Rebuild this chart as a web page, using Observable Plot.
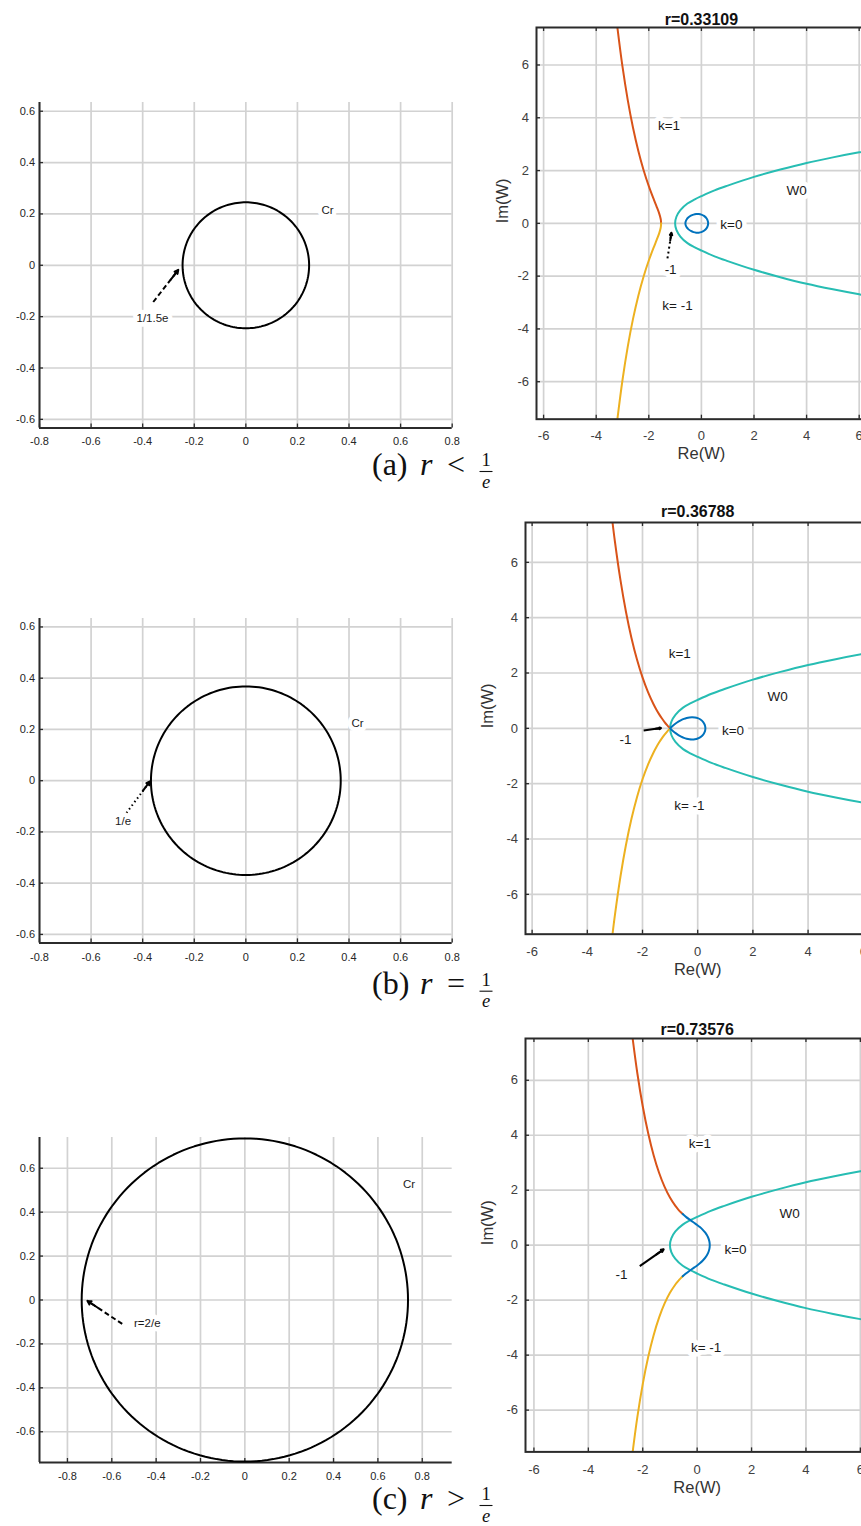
<!DOCTYPE html>
<html>
<head>
<meta charset="utf-8">
<script src="https://cdn.jsdelivr.net/npm/d3@7"></script>
<script src="https://cdn.jsdelivr.net/npm/@observablehq/plot@0.6"></script>
<style>
  html, body { margin: 0; padding: 0; background: #fff; overflow: hidden; }
  #fig { position: relative; width: 861px; height: 1526px; overflow: hidden; background: #fff; }
</style>
</head>
<body>
<div id="fig"></div>
<script>
// ---- values ----
const circleRadii = [0.2453, 0.3679, 0.7358];          // radius of the circle C_r in each row
const rowTitles = ["r=0.33109", "r=0.36788", "r=0.73576"];
const captionTags = ["(a)", "(b)", "(c)"];
const captionRelations = ["<", "=", ">"];

const leftXTicks = [-0.8, -0.6, -0.4, -0.2, 0, 0.2, 0.4, 0.6, 0.8];
const leftYTicks = [-0.6, -0.4, -0.2, 0, 0.2, 0.4, 0.6];
const rightTicks = [-6, -4, -2, 0, 2, 4, 6];

// W0 boundary curve (upper half, from the vertex at -1)
const tealUpper = [[-1.0, 0], [-0.95, 0.25], [-0.8, 0.5], [-0.53, 0.75], [-0.25, 0.91], [0, 1.03],
  [0.5, 1.25], [1, 1.43], [2, 1.76], [3, 2.04], [4, 2.29], [5, 2.5], [6, 2.69], [7, 2.86]];

// row (a): image of |z| = 0.33109
const k0UpperA = [[-0.608, 0], [-0.6, 0.063], [-0.55, 0.164], [-0.5, 0.219], [-0.4, 0.29], [-0.3, 0.331],
  [-0.2, 0.352], [-0.1, 0.352], [0, 0.331], [0.1, 0.282], [0.2, 0.183], [0.25, 0.063], [0.256, 0]];
const k1A = [[-1.532, 0], [-1.54, 0.117], [-1.55, 0.176], [-1.6, 0.36], [-1.7, 0.628], [-1.8, 0.879],
  [-2.0, 1.409], [-2.2, 2.022], [-2.4, 2.75], [-2.6, 3.621], [-2.8, 4.67], [-3.0, 5.935], [-3.2, 7.466], [-3.25, 7.896]];

// row (b): image of |z| = 1/e
const k0UpperB = [[-1, 0], [-0.95, 0.048], [-0.9, 0.093], [-0.8, 0.174], [-0.7, 0.243], [-0.6, 0.299],
  [-0.5, 0.343], [-0.4, 0.376], [-0.3, 0.396], [-0.2, 0.402], [-0.1, 0.394], [0, 0.368], [0.1, 0.318],
  [0.2, 0.225], [0.25, 0.14], [0.27, 0.077], [0.2785, 0]];
const k1B = [[-1, 0], [-1.05, 0.052], [-1.1, 0.107], [-1.2, 0.228], [-1.3, 0.364], [-1.4, 0.515], [-1.5, 0.684],
  [-1.6, 0.872], [-1.8, 1.309], [-2.0, 1.841], [-2.2, 2.487], [-2.4, 3.269], [-2.6, 4.216], [-2.8, 5.363],
  [-3.0, 6.753], [-3.1, 7.555]];

// row (c): image of |z| = 2/e
const k0UpperC = [[-0.531, 1.133], [-0.5, 1.105], [-0.4, 1.022], [-0.3, 0.947], [-0.2, 0.876], [-0.1, 0.807],
  [0, 0.736], [0.1, 0.658], [0.2, 0.568], [0.3, 0.455], [0.4, 0.289], [0.45, 0.133], [0.463, 0]];
const k1C = [[-0.531, 1.133], [-0.6, 1.199], [-0.7, 1.306], [-0.8, 1.429], [-1.0, 1.732], [-1.2, 2.128],
  [-1.4, 2.635], [-1.6, 3.274], [-1.8, 4.071], [-2.0, 5.055], [-2.2, 6.265], [-2.4, 7.747]];

// annotations on the z-plane panels
const leftLabels = [
  [{x: 0.317, y: 0.214, text: "Cr"}, {x: -0.362, y: -0.205, text: "1/1.5e"}],
  [{x: 0.433, y: 0.222, text: "Cr"}, {x: -0.476, y: -0.159, text: "1/e"}],
  [{x: 0.74, y: 0.528, text: "Cr"}, {x: -0.44, y: -0.106, text: "r=2/e"}]
];
const leftArrows = [
  {x1: -0.359, y1: -0.143, x2: -0.262, y2: -0.018, dash: "5,3"},
  {x1: -0.463, y1: -0.126, x2: -0.372, y2: -0.003, dash: "1.5,3"},
  {x1: -0.553, y1: -0.109, x2: -0.71, y2: -0.004, dash: "5,3"}
];
// annotations on the W-plane panels
const rightLabels = [
  [{x: -1.23, y: 3.69, text: "k=1"}, {x: 3.62, y: 1.23, text: "W0"}, {x: 1.14, y: -0.06, text: "k=0"},
   {x: -0.91, y: -3.13, text: "k= -1"}, {x: -1.17, y: -1.77, text: "-1"}],
  [{x: -0.65, y: 2.69, text: "k=1"}, {x: 2.9, y: 1.16, text: "W0"}, {x: 1.28, y: -0.08, text: "k=0"},
   {x: -0.3, y: -2.79, text: "k= -1"}, {x: -2.62, y: -0.42, text: "-1"}],
  [{x: 0.1, y: 3.7, text: "k=1"}, {x: 3.4, y: 1.13, text: "W0"}, {x: 1.41, y: -0.16, text: "k=0"},
   {x: 0.33, y: -3.72, text: "k= -1"}, {x: -2.78, y: -1.07, text: "-1"}]
];
const rightArrows = [
  {x1: -1.29, y1: -1.33, x2: -1.14, y2: -0.36, dash: "2,3"},
  {x1: -1.96, y1: -0.08, x2: -1.33, y2: 0.01, dash: null},
  {x1: -2.11, y1: -0.76, x2: -1.23, y2: -0.15, dash: null}
];

// ---- styling ----
const sans = "'Liberation Sans', Arial, Helvetica, sans-serif";
const serif = "'Liberation Serif', 'DejaVu Serif', serif";
const gridColor = "#d2d2d2";
const axisColor = "#2b2b2b";
const colK1 = "#D95319", colKm1 = "#EDB120", colK0 = "#0072BD", colW0 = "#27BDB3";

const fig = document.getElementById("fig");
const mirror = pts => pts.map(([x, y]) => [x, -y]);
const fmt = d => String(d);

function place(svg, g) {
  svg.style.position = "absolute";
  svg.style.left = (g.left - g.mL) + "px";
  svg.style.top = (g.top - g.mT) + "px";
  fig.appendChild(svg);
}

function makePlot(g, marks) {
  return Plot.plot({
    width: g.mL + g.w + g.mR,
    height: g.mT + g.h + g.mB,
    marginLeft: g.mL, marginRight: g.mR, marginTop: g.mT, marginBottom: g.mB,
    x: {domain: g.xd},
    y: {domain: g.yd},
    style: {background: "transparent", overflow: "visible", fontFamily: sans, fontSize: "11px", color: "#262626", maxWidth: "none"},
    marks
  });
}

// An annotation arrow: a (possibly dashed) shaft plus a solid head on its last stretch.
function annotationArrow(a) {
  const head = {x1: a.x2 - (a.x2 - a.x1) * 0.3, y1: a.y2 - (a.y2 - a.y1) * 0.3, x2: a.x2, y2: a.y2};
  return [
    Plot.link([a], {x1: "x1", y1: "y1", x2: "x2", y2: "y2", stroke: "#000", strokeWidth: 2, strokeDasharray: a.dash}),
    Plot.arrow([head], {x1: "x1", y1: "y1", x2: "x2", y2: "y2", stroke: "#000", strokeWidth: 2, headLength: 9, headAngle: 55})
  ];
}

// ---- z-plane panels (circle C_r) ----
const leftGeom = [
  {left: 39, top: 101.7, w: 412.7, h: 325.6, xd: [-0.8, 0.8], yd: [-0.634, 0.634], tp: 9},
  {left: 39, top: 618.3, w: 412.7, h: 324.4, xd: [-0.8, 0.8], yd: [-0.633, 0.633], tp: 10},
  {left: 39, top: 1137, w: 412.7, h: 325, xd: [-0.926, 0.935], yd: [-0.74, 0.74], tp: 10}
];

leftGeom.forEach((g, i) => {
  Object.assign(g, {mL: 39, mR: 14, mT: 10, mB: 28});
  const r = circleRadii[i];
  const circle = d3.range(0, 361, 2).map(a => [r * Math.cos(a * Math.PI / 180), r * Math.sin(a * Math.PI / 180)]);
  const svg = makePlot(g, [
    Plot.ruleX(leftXTicks, {stroke: gridColor, strokeWidth: 1.7}),
    Plot.ruleY(leftYTicks, {stroke: gridColor, strokeWidth: 1.7}),
    Plot.ruleX(leftXTicks, {insetTop: g.h - 4, stroke: axisColor, strokeWidth: 1.3}),
    Plot.ruleY(leftYTicks, {insetRight: g.w - 4, stroke: axisColor, strokeWidth: 1.3}),
    Plot.ruleX([g.xd[0]], {stroke: axisColor, strokeWidth: 2}),
    Plot.ruleY([g.yd[0]], {stroke: axisColor, strokeWidth: 2}),
    Plot.axisX({ticks: leftXTicks, tickSize: 0, tickPadding: g.tp, tickFormat: fmt, label: null, fontSize: 11}),
    Plot.axisY({ticks: leftYTicks, tickSize: 0, tickPadding: 4.5, tickFormat: fmt, label: null, fontSize: 11}),
    Plot.line(circle, {stroke: "#000", strokeWidth: 2}),
    ...annotationArrow(leftArrows[i]),
    Plot.text(leftLabels[i], {x: "x", y: "y", text: "text", fill: "#1a1a1a", stroke: "white", strokeWidth: 9, fontSize: 11.5})
  ]);
  place(svg, g);
});

// ---- W-plane panels (images under the branches W_k) ----
const rightGeom = [
  {left: 535.7, top: 27.3, w: 329.8, h: 391.7, xd: [-6.27, 6.27], yd: [-7.42, 7.42], tp: 11.3, title: -14.3, xl: 40.3, yl: -34},
  {left: 525, top: 522.3, w: 344.4, h: 411.7, xd: [-6.24, 6.24], yd: [-7.44, 7.44], tp: 13, title: -16.6, xl: 41, yl: -38},
  {left: 525, top: 1038.3, w: 343.3, h: 413.4, xd: [-6.31, 6.31], yd: [-7.52, 7.52], tp: 12.8, title: -15, xl: 41, yl: -38}
];

const tealFull = [...mirror(tealUpper.slice(1)).reverse(), ...tealUpper];
const k0Curves = [
  {pts: [...k0UpperA, ...mirror(k0UpperA.slice(1, -1).reverse())], curve: "catmull-rom-closed"},
  {pts: [...k0UpperB, ...mirror(k0UpperB.slice(0, -1).reverse())], curve: "catmull-rom"},
  {pts: [...k0UpperC, ...mirror(k0UpperC.slice(0, -1).reverse())], curve: "catmull-rom"}
];
const k1Curves = [k1A, k1B, k1C];

rightGeom.forEach((g, i) => {
  Object.assign(g, {mL: 55, mR: 12, mT: 28, mB: 55});
  const svg = makePlot(g, [
    Plot.ruleX(rightTicks, {stroke: gridColor, strokeWidth: 1.7}),
    Plot.ruleY(rightTicks, {stroke: gridColor, strokeWidth: 1.7}),
    Plot.ruleX(rightTicks, {insetTop: g.h - 4, stroke: axisColor, strokeWidth: 1.3}),
    Plot.ruleX(rightTicks, {insetBottom: g.h - 4, stroke: axisColor, strokeWidth: 1.3}),
    Plot.ruleY(rightTicks, {insetRight: g.w - 4, stroke: axisColor, strokeWidth: 1.3}),
    Plot.line(tealFull, {stroke: colW0, strokeWidth: 2, curve: "catmull-rom", clip: true}),
    Plot.line(k1Curves[i], {stroke: colK1, strokeWidth: 2, curve: "catmull-rom", clip: true}),
    Plot.line(mirror(k1Curves[i]), {stroke: colKm1, strokeWidth: 2, curve: "catmull-rom", clip: true}),
    Plot.line(k0Curves[i].pts, {stroke: colK0, strokeWidth: 2, curve: k0Curves[i].curve, clip: true}),
    Plot.frame({stroke: axisColor, strokeWidth: 2}),
    Plot.axisX({ticks: rightTicks, tickSize: 0, tickPadding: g.tp, tickFormat: fmt, label: null, fontSize: 13, fill: "#404040"}),
    Plot.axisY({ticks: rightTicks, tickSize: 0, tickPadding: 7.5, tickFormat: fmt, label: null, fontSize: 13, fill: "#404040"}),
    Plot.text([rowTitles[i]], {frameAnchor: "top", dy: g.title, text: d => d, fontWeight: "bold", fontSize: 16, fill: "#111"}),
    Plot.text(["Re(W)"], {frameAnchor: "bottom", dy: g.xl, text: d => d, fontSize: 16.5, fill: "#333"}),
    Plot.text(["Im(W)"], {frameAnchor: "left", dx: g.yl, rotate: -90, text: d => d, fontSize: 16.5, fill: "#333"}),
    Plot.text(rightLabels[i], {x: "x", y: "y", text: "text", fill: "#1a1a1a", stroke: "white", strokeWidth: 9, fontSize: 13.5}),
    ...annotationArrow(rightArrows[i])
  ]);
  place(svg, g);
});

// ---- row captions ----
const cap = d3.select(fig).append("svg")
  .attr("width", 861).attr("height", 1526)
  .style("position", "absolute").style("left", "0px").style("top", "0px")
  .style("pointer-events", "none");
const captionShift = [0, 519.7, 1034];
const capText = (x, y, size, str, anchor, italic) => cap.append("text")
  .attr("x", x).attr("y", y).attr("text-anchor", anchor)
  .attr("font-family", serif).attr("font-size", size).attr("fill", "#111")
  .attr("font-style", italic ? "italic" : "normal").text(str);
captionTags.forEach((tag, i) => {
  const s = captionShift[i];
  capText(372, 474.5 + s, 32, tag, "start", false);
  capText(420, 474.5 + s, 32, "r", "start", true);
  capText(456, 474.5 + s, 32, captionRelations[i], "middle", false);
  capText(486, 466 + s, 18.5, "1", "middle", false);
  cap.append("line").attr("x1", 479.5).attr("x2", 492.5).attr("y1", 471.5 + s).attr("y2", 471.5 + s)
    .attr("stroke", "#111").attr("stroke-width", 1.1);
  capText(486, 487.5 + s, 18.5, "e", "middle", true);
});
</script>
</body>
</html>
